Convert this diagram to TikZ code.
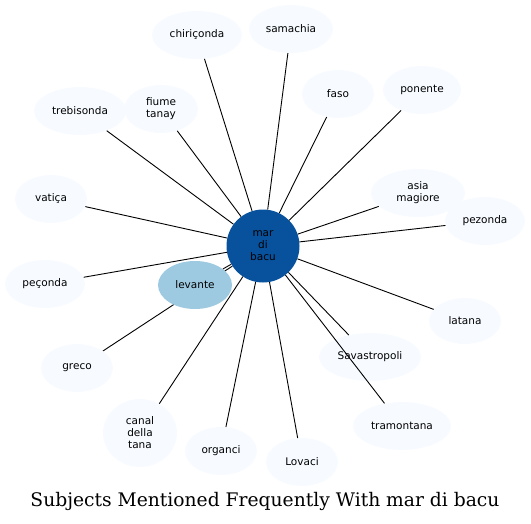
\documentclass[tikz,border=0pt]{standalone}
\usepackage{fontspec}
\newfontfamily\labelfont{DejaVu Sans}
\newfontfamily\titlefont{DejaVu Serif}
\usetikzlibrary{shapes.geometric,backgrounds}
\definecolor{pale}{HTML}{F7FBFF}
\definecolor{mid}{HTML}{9ECAE1}
\definecolor{deep}{HTML}{08519C}
\tikzset{
  topic/.style={ellipse,fill=pale,inner sep=0pt,minimum width=72pt,minimum height=48pt,
    align=center,font=\labelfont\fontsize{10.5}{12}\selectfont},
  hub/.style={circle,fill=deep,inner sep=0pt,minimum size=73pt,
    align=center,font=\labelfont\fontsize{10.5}{12}\selectfont},
  link/.style={draw=black,line width=0.9pt},
}
\begin{document}
\begin{tikzpicture}[x=1pt,y=-1pt]
  \useasboundingbox (0,0) rectangle (531,523);
  % hub and the subjects round it
  \node[hub] (bacu) at (263,246) {mar\\di\\bacu};
  \node[topic,minimum width=90pt] (chiri) at (197,35) {chiriçonda};
  \node[topic,minimum width=84pt] (sama) at (291,29) {samachia};
  \node[topic] (faso) at (338,94) {faso};
  \node[topic,minimum width=78pt] (ponente) at (422,90) {ponente};
  \node[topic,minimum width=94pt] (asia) at (418,193) {asia\\magiore};
  \node[topic,minimum width=80pt] (pezonda) at (485,221) {pezonda};
  \node[topic,minimum width=92pt] (trebi) at (80,111) {trebisonda};
  \node[topic,minimum width=74pt] (fiume) at (161,109) {fiume\\tanay};
  \node[topic] (vatica) at (51,199) {vatiça};
  \node[topic,minimum width=80pt] (peconda) at (45,284) {peçonda};
  \node[topic] (greco) at (77,368) {greco};
  \begin{pgfonlayer}{background}
    \draw[link] (bacu) -- (greco);
  \end{pgfonlayer}
  \node[topic,fill=mid,minimum width=74pt] (levante) at (195,285) {levante};
  \node[topic,minimum width=74pt,minimum height=68pt] (canal) at (140,433) {canal\\della\\tana};
  \node[topic] (organci) at (221,451) {organci};
  \node[topic] (lovaci) at (302,462) {Lovaci};
  \node[topic,minimum width=102pt] (savas) at (370,357) {Savastropoli};
  \node[topic,minimum width=98pt] (tramo) at (402,426) {tramontana};
  \node[topic,minimum height=46pt] (latana) at (465,321) {latana};
  % links from the hub
  \foreach \t in {chiri,sama,faso,ponente,asia,pezonda,trebi,fiume,vatica,
    peconda,levante,canal,organci,lovaci,savas,tramo,latana}
    \draw[link] (bacu) -- (\t);
  \node[font=\titlefont\fontsize{18.7}{22}\selectfont] (title) at (265,501) {Subjects Mentioned Frequently With mar di bacu};
\end{tikzpicture}
\end{document}
